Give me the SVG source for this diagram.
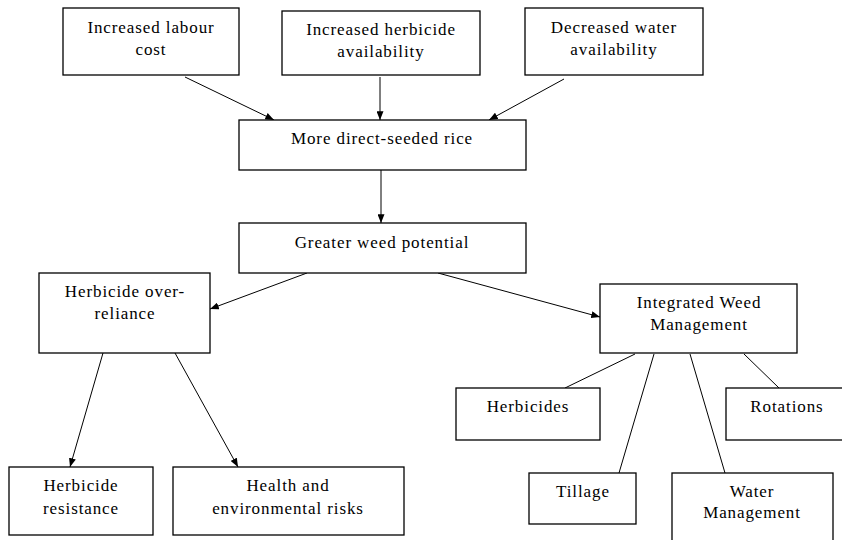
<svg xmlns="http://www.w3.org/2000/svg" width="842" height="540" viewBox="0 0 842 540">
<defs>
<marker id="ah" viewBox="0 0 10 8" refX="10" refY="4" markerWidth="9" markerHeight="7" markerUnits="userSpaceOnUse" orient="auto">
<path d="M0,0 L10,4 L0,8 z" fill="#000"/>
</marker>
<style>
rect{fill:#fff;stroke:#000;stroke-width:1.3}
text{font-family:"Liberation Serif","Times New Roman",serif;font-size:17px;fill:#000;text-anchor:middle;letter-spacing:0.9px}
.c line{stroke:#000;stroke-width:1}
.c .a{marker-end:url(#ah)}
</style>
</defs>
<rect x="0" y="0" width="842" height="540" style="fill:#fff;stroke:none"/>
<g class="c" id="connectors">
<line class="a" x1="185" y1="77" x2="274" y2="120"/>
<line class="a" x1="380" y1="77" x2="380" y2="120"/>
<line class="a" x1="564" y1="79" x2="489" y2="120"/>
<line class="a" x1="381" y1="170" x2="381" y2="223"/>
<line class="a" x1="307" y1="273" x2="210" y2="309"/>
<line class="a" x1="438" y1="273" x2="600" y2="317"/>
<line class="a" x1="103" y1="353" x2="70" y2="467"/>
<line class="a" x1="175" y1="353" x2="238" y2="467"/>
<line x1="635" y1="354" x2="565" y2="388"/>
<line x1="654" y1="354" x2="619" y2="473"/>
<line x1="690" y1="354" x2="725" y2="473"/>
<line x1="744" y1="354" x2="779" y2="388"/>
</g>
<g id="n1"><rect x="63" y="8" width="176" height="67"/><text x="151" y="33">Increased labour</text><text x="151" y="55">cost</text></g>
<g id="n2"><rect x="282" y="11" width="198" height="64"/><text x="381" y="35">Increased herbicide</text><text x="381" y="57">availability</text></g>
<g id="n3"><rect x="525" y="8" width="178" height="67"/><text x="614" y="33">Decreased water</text><text x="614" y="55">availability</text></g>
<g id="n4"><rect x="239" y="120" width="287" height="50"/><text x="382" y="144">More direct-seeded rice</text></g>
<g id="n5"><rect x="239" y="223" width="287" height="50"/><text x="382" y="248">Greater weed potential</text></g>
<g id="n6"><rect x="39" y="273" width="171" height="80"/><text x="125" y="297">Herbicide over-</text><text x="125" y="319">reliance</text></g>
<g id="n7"><rect x="600" y="284" width="197" height="69"/><text x="699" y="308">Integrated Weed</text><text x="699" y="330">Management</text></g>
<g id="n8"><rect x="9" y="467" width="144" height="68"/><text x="81" y="491">Herbicide</text><text x="81" y="514">resistance</text></g>
<g id="n9"><rect x="173" y="467" width="231" height="68"/><text x="288" y="491">Health and</text><text x="288" y="514">environmental risks</text></g>
<g id="n10"><rect x="456" y="388" width="144" height="52"/><text x="528" y="412">Herbicides</text></g>
<g id="n11"><rect x="726" y="388" width="120" height="52"/><text x="787" y="412">Rotations</text></g>
<g id="n12"><rect x="529" y="473" width="107" height="51"/><text x="583" y="497">Tillage</text></g>
<g id="n13"><rect x="672" y="473" width="161" height="72"/><text x="752" y="497">Water</text><text x="752" y="518">Management</text></g>
</svg>
